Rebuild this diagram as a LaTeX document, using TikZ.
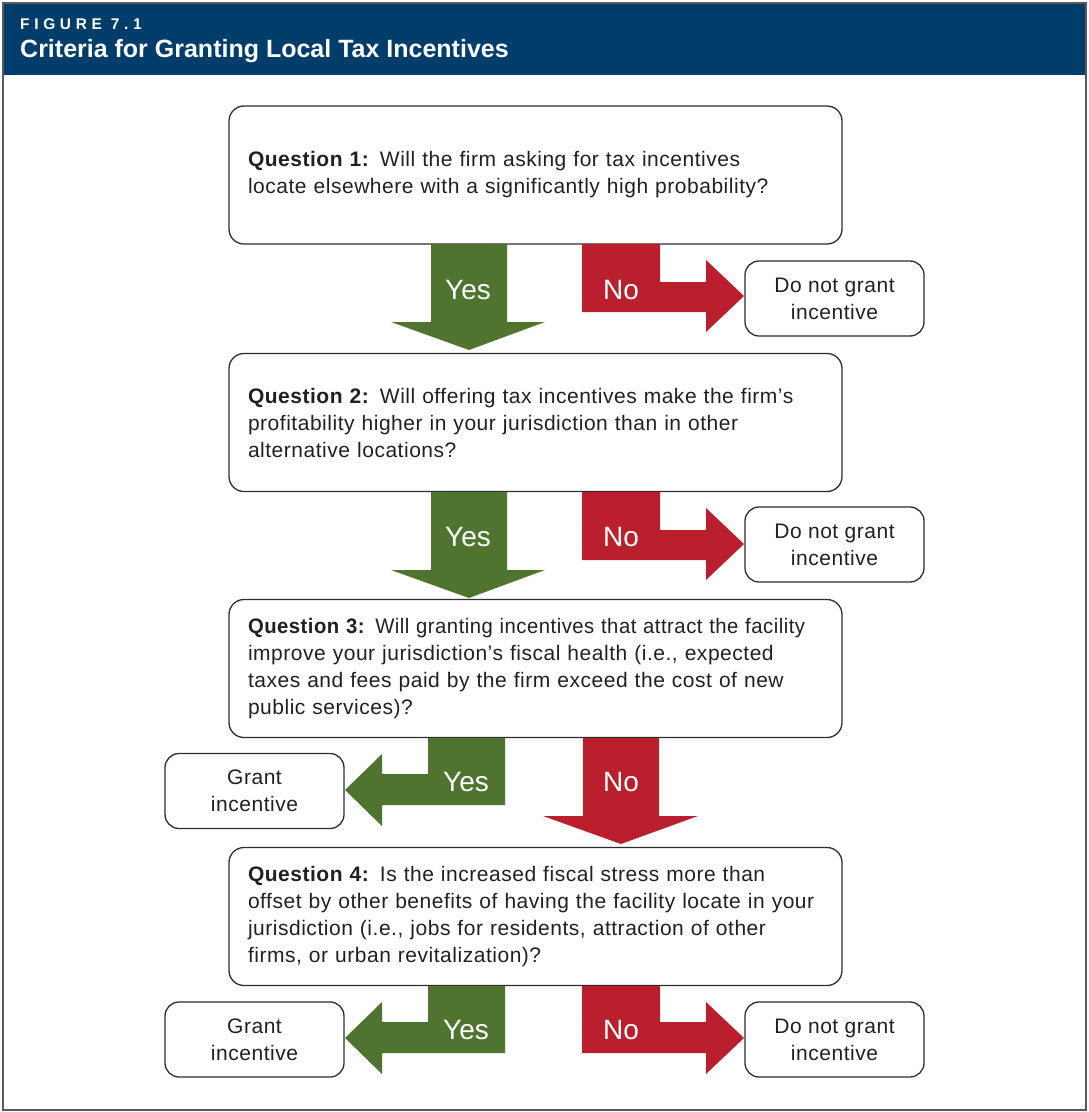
\documentclass[tikz,border=0pt]{standalone}
\usepackage{fontspec}
\setmainfont{Liberation Sans}
\definecolor{hdrblue}{RGB}{0,61,107}
\definecolor{yesgreen}{RGB}{78,116,48}
\definecolor{nored}{RGB}{185,31,45}
\definecolor{boxline}{RGB}{45,45,45}
\definecolor{txt}{RGB}{35,31,32}
\newcommand{\qfont}{\fontsize{21}{27}\selectfont\addfontfeatures{LetterSpace=2.5}}
\newcommand{\lblfont}{\fontsize{28}{30}\selectfont}
\begin{document}
\begin{tikzpicture}[x=1pt,y=-1pt,
  qbox/.style={draw=boxline, line width=1.3pt, rounded corners=15pt, minimum width=613pt,
    minimum height=138pt, text width=575pt, align=left, inner xsep=19pt, font=\qfont, text=txt},
  sbox/.style={draw=boxline, line width=1.3pt, rounded corners=14pt, minimum width=179pt,
    minimum height=75pt, align=center, font=\qfont, text=txt},
  yesarrow/.style={fill=yesgreen},
  noarrow/.style={fill=nored},
  lbl/.style={text=white, font=\lblfont, inner sep=0pt}
]
\useasboundingbox (0,0) rectangle (1088,1112);
% frame and header
\fill[hdrblue] (4,4) rectangle (1086,75);
\draw[line width=2pt, draw=black!65] (3,3) rectangle (1086,1110);
\node[anchor=base west, text=white, inner sep=0pt, font=\fontsize{15.5}{15.5}\selectfont\bfseries\addfontfeatures{LetterSpace=30}] (fig) at (20,29) {FIGURE 7.1};
\node[anchor=base west, text=white, inner sep=0pt, font=\fontsize{25}{25}\selectfont\bfseries] (title) at (20,57) {Criteria for Granting Local Tax Incentives};

% question boxes
\node[qbox] (q1) at (535.5,175) {\textbf{Question 1:} Will the firm asking for tax incentives\\locate elsewhere with a significantly high probability?};
\node[qbox] (q2) at (535.5,422.5) {\textbf{Question 2:} Will offering tax incentives make the firm’s\\profitability higher in your jurisdiction than in other\\alternative locations?};
\node[qbox] (q3) at (535.5,668.5) {\scalebox{0.965}[1]{\textbf{Question 3:} Will granting incentives that attract the facility}\\improve your jurisdiction’s fiscal health (i.e., expected\\taxes and fees paid by the firm exceed the cost of new\\public services)?};
\node[qbox] (q4) at (535.5,916.5) {\textbf{Question 4:} Is the increased fiscal stress more than\\offset by other benefits of having the facility locate in your\\jurisdiction (i.e., jobs for residents, attraction of other\\firms, or urban revitalization)?};

% outcome boxes
\node[sbox] (d1) at (834.5,298.5) {Do not grant\\incentive};
\node[sbox] (d2) at (834.5,544.5) {Do not grant\\incentive};
\node[sbox] (g3) at (254.5,791) {Grant\\incentive};
\node[sbox] (g4) at (254.5,1039.5) {Grant\\incentive};
\node[sbox] (d4) at (834.5,1039.5) {Do not grant\\incentive};

% row 1
\fill[yesarrow] (431,244) -- (507,244) -- (507,322) -- (545,322) -- (469,350) -- (391,322) -- (431,322) -- cycle;
\fill[noarrow] (582,244) -- (660,244) -- (660,282) -- (706,282) -- (706,260) -- (744,296) -- (706,332) -- (706,312) -- (582,312) -- cycle;
\node[lbl] (y1) at (468,290) {Yes};
\node[lbl] (n1) at (621,290) {No};
% row 2
\fill[yesarrow] (431,492) -- (507,492) -- (507,570) -- (545,570) -- (469,598) -- (391,570) -- (431,570) -- cycle;
\fill[noarrow] (582,492) -- (660,492) -- (660,530) -- (706,530) -- (706,508) -- (744,544) -- (706,580) -- (706,560) -- (582,560) -- cycle;
\node[lbl] (y2) at (468,537) {Yes};
\node[lbl] (n2) at (621,537) {No};
% row 3
\fill[yesarrow] (428,738) -- (505,738) -- (505,805) -- (382,805) -- (382,826) -- (345,790) -- (382,754) -- (382,774) -- (428,774) -- cycle;
\fill[noarrow] (583,738) -- (659,738) -- (659,816) -- (698,816) -- (621,844) -- (543,816) -- (583,816) -- cycle;
\node[lbl] (y3) at (466,782) {Yes};
\node[lbl] (n3) at (621,782) {No};
% row 4
\fill[yesarrow] (428,986) -- (505,986) -- (505,1053) -- (382,1053) -- (382,1074) -- (345,1038) -- (382,1002) -- (382,1022) -- (428,1022) -- cycle;
\fill[noarrow] (582,986) -- (660,986) -- (660,1022) -- (706,1022) -- (706,1002) -- (744,1038) -- (706,1074) -- (706,1053) -- (582,1053) -- cycle;
\node[lbl] (y4) at (466,1030) {Yes};
\node[lbl] (n4) at (621,1030) {No};
\end{tikzpicture}
\end{document}
